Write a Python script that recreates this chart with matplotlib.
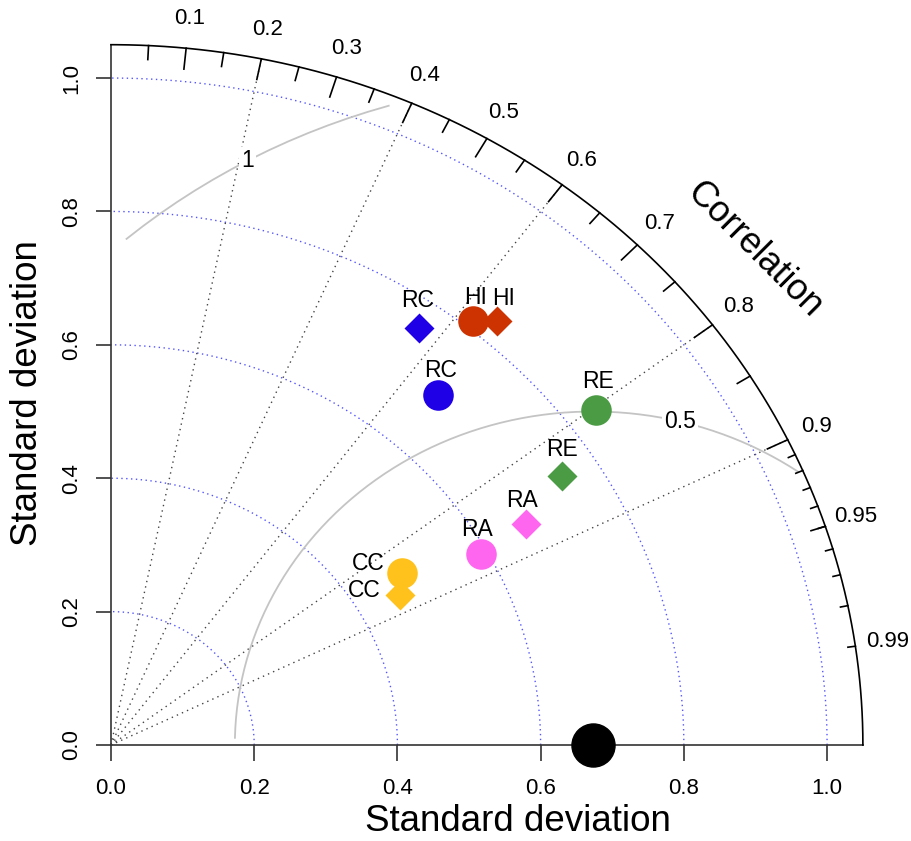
import numpy as np
import matplotlib
matplotlib.use("Agg")
import matplotlib.pyplot as plt

plt.rcParams['font.family'] = ['Liberation Sans', 'DejaVu Sans']

# models and their colours
models = ['RC', 'HI', 'RE', 'RA', 'CC']
colors = ['#1f00e6', '#cc3300', '#4b9b45', '#ff66f0', '#ffc21c']

# circle series (standard deviation, correlation)
sd_circle = [0.696, 0.812, 0.844, 0.591, 0.481]
cor_circle = [0.657, 0.623, 0.803, 0.875, 0.844]
# diamond series
sd_diamond = [0.759, 0.834, 0.748, 0.668, 0.462]
cor_diamond = [0.567, 0.647, 0.842, 0.868, 0.874]

ref_sd = 0.673
maxsd = 1.05
rms_levels = [0.5, 1.0]
rms_label_angle = [1.325, 2.074]
sd_grid = [0.2, 0.4, 0.6, 0.8, 1.0]
cor_lines = [0.2, 0.4, 0.6, 0.8, 0.9]
cor_big = [0.1, 0.2, 0.3, 0.4, 0.5, 0.6, 0.7, 0.8, 0.9]
cor_med = [0.05, 0.15, 0.25, 0.35, 0.45, 0.55, 0.65, 0.75, 0.85, 0.95]
cor_small = [0.91, 0.92, 0.93, 0.94, 0.95, 0.96, 0.97, 0.98, 0.99]
cor_text = [0.1, 0.2, 0.3, 0.4, 0.5, 0.6, 0.7, 0.8, 0.9, 0.95, 0.99]
axis_ticks = [0.0, 0.2, 0.4, 0.6, 0.8, 1.0]

# label offsets in points (dx, dy) from marker centre
circle_off = [(1.5, 18), (1.5, 17), (1.5, 20), (-3, 18), (-24, 7)]
diamond_off = [(-1, 19.5), (4.5, 16), (0, 19), (-3, 17), (-26, 3.5)]

fig = plt.figure(figsize=(9.11, 8.41), dpi=100)
ax = fig.add_axes([0.0825, 0.0745, 0.904, 0.912])
ax.set_xlim(-0.05, 1.10)
ax.set_ylim(-0.05, 1.10)

# sd grid arcs
th = np.linspace(0, np.pi / 2, 200)
for r in sd_grid:
    ax.plot(r * np.cos(th), r * np.sin(th), color='#5555ff', lw=1.0,
            ls=(0, (1, 2.5)), zorder=1)

# correlation radial lines
for c in cor_lines:
    ax.plot([0, maxsd * c], [0, maxsd * np.sqrt(1 - c ** 2)], color='#444444',
            lw=1.0, ls=(0, (1, 3)), zorder=1)

# centred RMS arcs (plotrix style sampling)
t = np.arange(0, np.pi, 0.03)
for g, la in zip(rms_levels, rms_label_angle):
    xc = np.cos(t) * g + ref_sd
    yc = np.sin(t) * g
    neg = np.where(xc < 0)[0]
    end = neg[0] if len(neg) else len(t)
    out = np.where(xc ** 2 + yc ** 2 > maxsd ** 2)[0]
    start = out[-1] + 1 if len(out) else 0
    ax.plot(xc[start:end], yc[start:end], color='#c4c4c4', lw=1.3, zorder=2)
    ax.text(np.cos(la) * g + ref_sd, np.sin(la) * g, '%g' % g, fontsize=16.5,
            ha='center', va='center', zorder=3,
            bbox=dict(facecolor='white', edgecolor='none', pad=1.5))

# outer arc and ticks
ax.plot(maxsd * np.cos(th), maxsd * np.sin(th), color='black', lw=1.2, zorder=4)
for vals, frac in [(cor_big, 0.97), (cor_med, 0.98), (cor_small, 0.99)]:
    a = np.arccos(np.array(vals))
    for ang in a:
        ax.plot([np.cos(ang) * maxsd, np.cos(ang) * frac * maxsd],
                [np.sin(ang) * maxsd, np.sin(ang) * frac * maxsd],
                color='black', lw=1.2, zorder=4)
for c in cor_text:
    ang = np.arccos(c)
    ax.text(np.cos(ang) * 1.043 * maxsd, np.sin(ang) * 1.043 * maxsd, '%g' % c,
            fontsize=16, ha='center', va='center', clip_on=False)
ax.text(0.898, 0.742, 'Correlation', fontsize=26, rotation=-45,
        ha='center', va='center')

# model points
for i, m in enumerate(models):
    x = sd_circle[i] * cor_circle[i]
    y = sd_circle[i] * np.sqrt(1 - cor_circle[i] ** 2)
    ax.plot(x, y, 'o', ms=22, color=colors[i], mec='none', zorder=6)
    ax.annotate(m, (x, y), xytext=circle_off[i], textcoords='offset points',
                fontsize=16.5, ha='center', va='center', zorder=7)
    x = sd_diamond[i] * cor_diamond[i]
    y = sd_diamond[i] * np.sqrt(1 - cor_diamond[i] ** 2)
    ax.plot(x, y, 'D', ms=15.3, color=colors[i], mec='none', zorder=6)
    ax.annotate(m, (x, y), xytext=diamond_off[i], textcoords='offset points',
                fontsize=16.5, ha='center', va='center', zorder=7)

# reference point
ax.plot(ref_sd, 0, 'o', ms=31, color='black', zorder=8, clip_on=False)

# axes
for s in ['top', 'right']:
    ax.spines[s].set_visible(False)
for s in ['bottom', 'left']:
    ax.spines[s].set_position(('data', 0))
    ax.spines[s].set_bounds(0, maxsd)
    ax.spines[s].set_linewidth(1.2)
    ax.spines[s].set_color('#333333')
ax.set_xticks(axis_ticks)
ax.set_yticks(axis_ticks)
ax.set_xticklabels(['%.1f' % v for v in axis_ticks])
ax.set_yticklabels(['%.1f' % v for v in axis_ticks], rotation=90, va='center')
ax.tick_params(axis='both', direction='out', width=1.2,
               color='#333333', labelsize=16)
ax.tick_params(axis='x', length=11.5, pad=12)
ax.tick_params(axis='y', length=10.5, pad=10)

ax.text(0.568, -0.115, 'Standard deviation', fontsize=26.5, ha='center',
        va='center', clip_on=False)
ax.text(-0.1166, 0.528, 'Standard deviation', fontsize=26.5, ha='center',
        va='center', rotation=90, clip_on=False)

fig.savefig('out.png', dpi=100)
